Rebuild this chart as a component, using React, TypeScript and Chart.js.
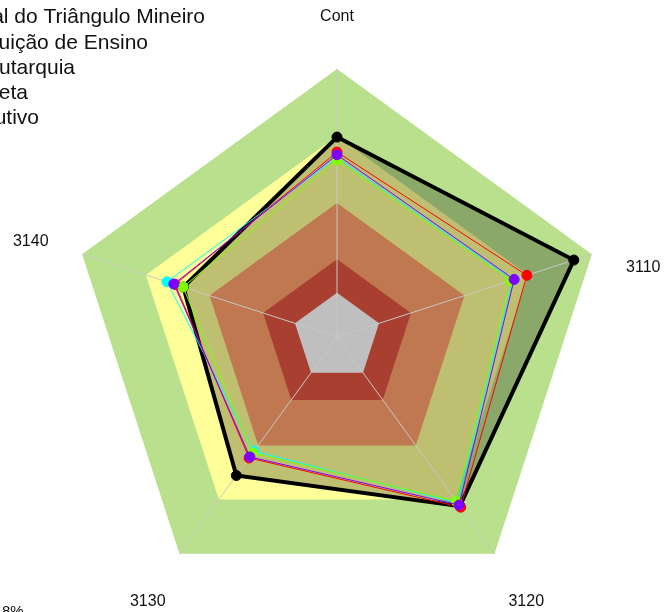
import React, { useEffect, useRef } from 'react';
import { Chart, registerables } from 'chart.js';

Chart.register(...registerables);

// ---- data ----
const axes = ['Cont', '3110', '3120', '3130', '3140'];
const seriesLabels = [
  'Universidade Federal do Triângulo Mineiro',
  'Instituição de Ensino',
  'Autarquia',
  'Meta',
  'Executivo',
];
const uftm = [0.746, 0.929, 0.78, 0.639, 0.603];
const ensino = [0.67, 0.69, 0.765, 0.527, 0.667];
const autarquia = [0.69, 0.745, 0.785, 0.558, 0.635];
const meta = [0.66, 0.68, 0.757, 0.535, 0.604];
const executivo = [0.68, 0.695, 0.775, 0.553, 0.64];
const bandLimits = [1.0, 0.75, 0.5, 0.29, 0.165];
const footnote = '8%';

// ---- styles / layout ----
const bandColors = ['#b9e08c', '#ffff99', '#ffa06a', '#e05540', '#ffffff'];
const FONT = '"Liberation Sans", Arial, sans-serif';
const labelRadius = 322;
const labelDy = [2, 30, 4, 4, 4];
const legendEndX = [205, 148, 75, 28, 39];
const legendBaseY = [23, 49, 74, 99, 124];

const textPlugin = {
  id: 'texts',
  afterDraw(chart: any) {
    const ctx = chart.ctx;
    const scale = chart.scales.r;
    ctx.save();
    ctx.fillStyle = '#111';
    ctx.font = `16px ${FONT}`;
    ctx.textAlign = 'center';
    ctx.textBaseline = 'middle';
    axes.forEach((lab, i) => {
      const p = scale.getPointPosition(i, labelRadius);
      ctx.fillText(lab, p.x, p.y + labelDy[i]);
    });
    ctx.font = `21px ${FONT}`;
    ctx.textAlign = 'right';
    ctx.textBaseline = 'alphabetic';
    seriesLabels.forEach((lab, i) => {
      ctx.fillText(lab, legendEndX[i], legendBaseY[i]);
    });
    ctx.font = `15px ${FONT}`;
    ctx.textAlign = 'left';
    ctx.fillText(footnote, 2, 616);
    ctx.restore();
  },
};

export default function App() {
  const ref = useRef<HTMLCanvasElement | null>(null);
  useEffect(() => {
    if (!ref.current) return;
    const bandSets = bandLimits.map((v, i) => ({
      label: 'band' + i,
      data: axes.map(() => v),
      backgroundColor: bandColors[i],
      borderColor: 'rgba(0,0,0,0)',
      borderWidth: 0,
      pointRadius: 0,
      pointHoverRadius: 0,
      fill: 'origin',
      order: 20 - i,
    }));
    const mk = (label: string, data: number[], color: string, order: number) => ({
      label,
      data,
      borderColor: color,
      backgroundColor: color,
      pointBackgroundColor: color,
      pointBorderColor: color,
      borderWidth: 1,
      pointRadius: 5,
      pointBorderWidth: 1,
      fill: false,
      order,
    });
    const chart = new Chart(ref.current, {
      type: 'radar',
      data: {
        labels: axes,
        datasets: [
          {
            label: seriesLabels[0],
            data: uftm,
            borderColor: '#000000',
            backgroundColor: 'rgba(0,0,0,0.25)',
            pointBackgroundColor: '#000000',
            pointBorderColor: '#000000',
            borderWidth: 4,
            pointRadius: 5,
            pointBorderWidth: 1,
            fill: 'origin',
            order: 5,
          },
          mk(seriesLabels[1], ensino, '#00ffff', 4),
          mk(seriesLabels[2], autarquia, '#ff0000', 3),
          mk(seriesLabels[3], meta, '#80ff00', 2),
          mk(seriesLabels[4], executivo, '#8000ff', 1),
          ...bandSets,
        ] as any,
      },
      options: {
        responsive: false,
        animation: false,
        devicePixelRatio: 1,
        events: [],
        layout: { padding: { left: 69, top: 69, right: 59, bottom: 7 } },
        elements: { line: { tension: 0 } },
        plugins: {
          legend: { display: false },
          tooltip: { enabled: false },
          title: { display: false },
          filler: { drawTime: 'beforeDraw' },
        },
        scales: {
          r: {
            min: 0,
            max: 1,
            ticks: { display: false },
            grid: { display: false },
            angleLines: { display: true, color: '#c8c8c8', lineWidth: 1 },
            pointLabels: { display: false },
          },
        },
      } as any,
      plugins: [textPlugin],
    });
    return () => chart.destroy();
  }, []);
  return (
    <div style={{ position: 'fixed', left: 0, top: 0, width: 664, height: 612 }}>
      <canvas ref={ref} width={664} height={612} style={{ display: 'block', width: 664, height: 612 }} />
    </div>
  );
}
